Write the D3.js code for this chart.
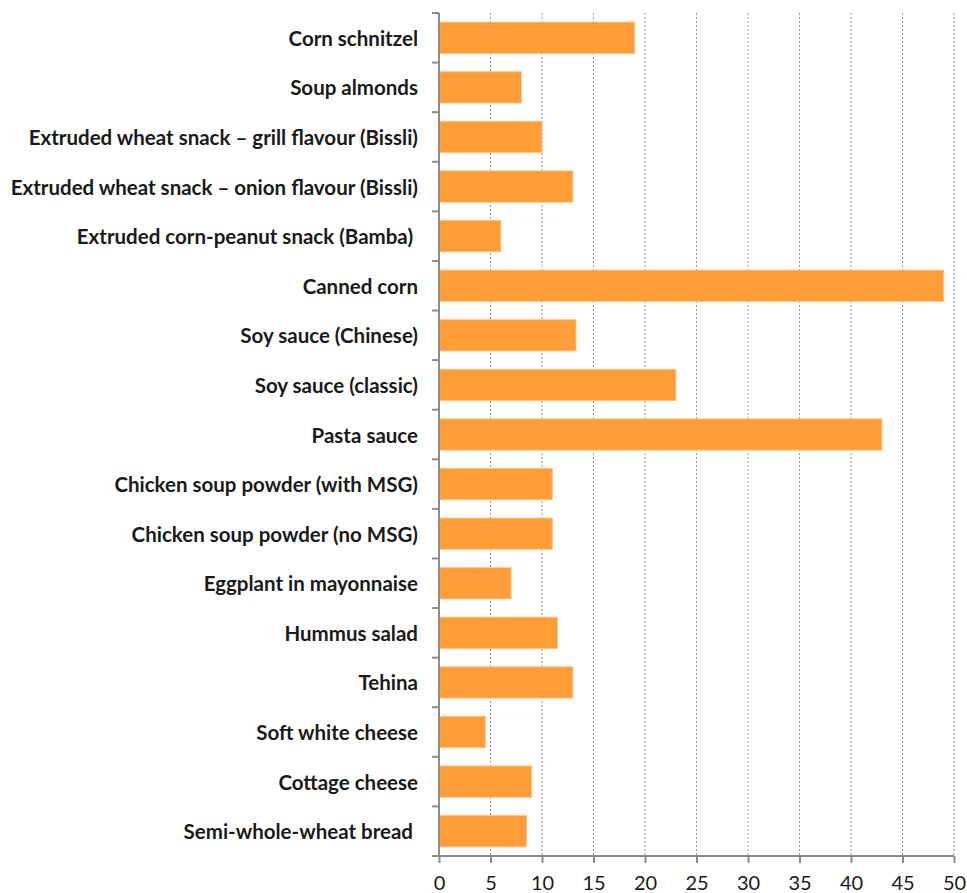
<!DOCTYPE html>
<html>
<head>
<meta charset="utf-8">
<script src="https://cdn.jsdelivr.net/npm/d3@7"></script>
<style>
  body { margin: 0; background: #fff; }
  text { white-space: pre; }
</style>
</head>
<body>
<script>
var CATEGORIES = [
  "Corn schnitzel",
  "Soup almonds",
  "Extruded wheat snack – grill flavour (Bissli)",
  "Extruded wheat snack – onion flavour (Bissli)",
  "Extruded corn-peanut snack (Bamba) ",
  "Canned corn",
  "Soy sauce (Chinese)",
  "Soy sauce (classic)",
  "Pasta sauce",
  "Chicken soup powder (with MSG)",
  "Chicken soup powder (no MSG)",
  "Eggplant in mayonnaise",
  "Hummus salad",
  "Tehina",
  "Soft white cheese",
  "Cottage cheese",
  "Semi-whole-wheat bread "
];
var VALUES = [19, 8, 10, 13, 6, 49, 13.3, 23, 43, 11, 11, 7, 11.5, 13, 4.5, 9, 8.5];
var X_TICKS = [0, 5, 10, 15, 20, 25, 30, 35, 40, 45, 50];

var W = 967, H = 893;
var margin = {top: 13, left: 439, right: 13, bottom: 37};

var svg = d3.select("body").append("svg").attr("width", W).attr("height", H);

var x = d3.scaleLinear().domain([0, 50]).range([margin.left, W - margin.right]);
var y = d3.scaleBand().domain(CATEGORIES).range([margin.top, H - margin.bottom])
  .paddingInner(0.37).paddingOuter(0.185);

// gridlines
svg.append("g").selectAll("line")
  .data(X_TICKS.slice(1))
  .enter().append("line")
  .attr("x1", d => x(d)).attr("x2", d => x(d))
  .attr("y1", margin.top).attr("y2", H - margin.bottom)
  .attr("stroke", "#9a9a9a").attr("stroke-width", 1)
  .attr("stroke-dasharray", "2,2");

// bars
svg.append("g").selectAll("rect")
  .data(VALUES)
  .enter().append("rect")
  .attr("x", x(0))
  .attr("y", (d, i) => y(CATEGORIES[i]))
  .attr("width", d => x(d) - x(0))
  .attr("height", y.bandwidth())
  .attr("fill", "#ff9d38")
  .attr("stroke", "#ffc27e").attr("stroke-width", 1);

// y axis line + ticks at band boundaries
var yax = svg.append("g");
yax.append("line")
  .attr("x1", x(0)).attr("x2", x(0))
  .attr("y1", margin.top).attr("y2", H - margin.bottom)
  .attr("stroke", "#8c8c8c").attr("stroke-width", 2);
var bounds = d3.range(CATEGORIES.length + 1).map(i => margin.top + i * y.step());
yax.selectAll("line.tk").data(bounds).enter().append("line")
  .attr("class", "tk")
  .attr("x1", x(0) - 7).attr("x2", x(0))
  .attr("y1", d => d).attr("y2", d => d)
  .attr("stroke", "#8c8c8c").attr("stroke-width", 2);

yax.selectAll("text").data(CATEGORIES).enter().append("text")
  .attr("x", 418)
  .attr("y", d => y(d) + y.bandwidth() / 2)
  .attr("text-anchor", "end")
  .attr("dominant-baseline", "central")
  .style("font-family", "Lato, 'Open Sans', sans-serif")
  .style("font-weight", "bold")
  .style("font-size", "20.5px")
  .attr("fill", "#1a1a1a")
  .text(d => d);

// x axis
var xAxis = d3.axisBottom(x).tickValues(X_TICKS).tickSize(7).tickPadding(13);
var gx = svg.append("g")
  .attr("transform", "translate(0," + (H - margin.bottom) + ")")
  .call(xAxis);
gx.select(".domain").attr("stroke", "#8c8c8c").attr("stroke-width", 2)
  .attr("d", "M" + x(0) + ",0H" + x(50));
gx.selectAll(".tick line").attr("stroke", "#8c8c8c").attr("stroke-width", 2);
gx.selectAll(".tick text")
  .style("font-family", "Lato, 'Open Sans', sans-serif")
  .style("font-size", "20px")
  .attr("fill", "#1a1a1a");
</script>
</body>
</html>
